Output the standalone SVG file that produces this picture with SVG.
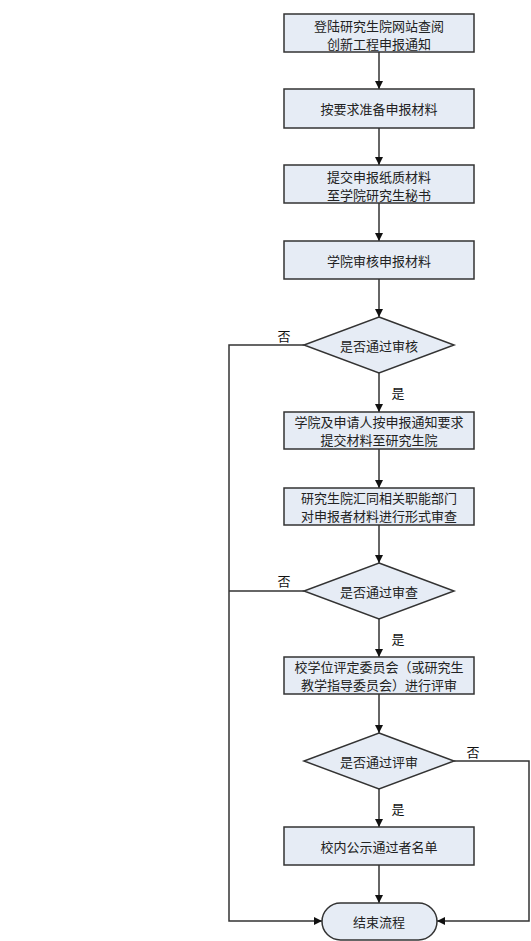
<svg xmlns="http://www.w3.org/2000/svg" width="531" height="941" viewBox="0 0 531 941">
<style>
.n{fill:#E6ECF5;stroke:#333;stroke-width:1.5}
.t{font-family:"Noto Sans CJK SC","Noto Sans",sans-serif;font-size:13px;fill:#222;text-anchor:middle;dominant-baseline:central}
.l{font-family:"Noto Sans CJK SC","Noto Sans",sans-serif;font-size:13px;fill:#111;text-anchor:middle;dominant-baseline:central}
.c{fill:none;stroke:#333;stroke-width:1.5}
</style>
<defs>
<marker id="a" markerWidth="10" markerHeight="10" refX="9" refY="5" orient="auto" markerUnits="userSpaceOnUse">
<path d="M1,1 L9,5 L1,9 z" fill="#111"/>
</marker>
</defs>
<rect width="531" height="941" fill="#fff"/>
<g id="connectors">
<path class="c" d="M379,52 V89" marker-end="url(#a)"/>
<path class="c" d="M379,128 V165" marker-end="url(#a)"/>
<path class="c" d="M379,203 V241" marker-end="url(#a)"/>
<path class="c" d="M379,279 V317" marker-end="url(#a)"/>
<path class="c" d="M379,373 V412" marker-end="url(#a)"/>
<path class="c" d="M379,449 V488" marker-end="url(#a)"/>
<path class="c" d="M379,525 V563" marker-end="url(#a)"/>
<path class="c" d="M379,619 V657" marker-end="url(#a)"/>
<path class="c" d="M379,694 V733" marker-end="url(#a)"/>
<path class="c" d="M379,789 V827" marker-end="url(#a)"/>
<path class="c" d="M379,865 V903" marker-end="url(#a)"/>
<path class="c" d="M304,345 H229 V921 H322" marker-end="url(#a)"/>
<path class="c" d="M304,591 H229"/>
<path class="c" d="M454,761 H529 V921 H437" marker-end="url(#a)"/>
<text class="l" x="284" y="335">否</text>
<text class="l" x="398" y="392">是</text>
<text class="l" x="284" y="580">否</text>
<text class="l" x="398" y="638">是</text>
<text class="l" x="473" y="751">否</text>
<text class="l" x="398" y="808">是</text>
</g>
<g id="n1"><rect class="n" x="284" y="14" width="190" height="38"/><text class="t" x="379" y="25">登陆研究生院网站查阅</text><text class="t" x="379" y="43">创新工程申报通知</text></g>
<g id="n2"><rect class="n" x="284" y="89" width="190" height="39"/><text class="t" x="379" y="108">按要求准备申报材料</text></g>
<g id="n3"><rect class="n" x="284" y="165" width="190" height="38"/><text class="t" x="379" y="176">提交申报纸质材料</text><text class="t" x="379" y="194">至学院研究生秘书</text></g>
<g id="n4"><rect class="n" x="284" y="241" width="190" height="38"/><text class="t" x="379" y="260">学院审核申报材料</text></g>
<g id="d1"><path class="n" d="M379,317 L454,345 L379,373 L304,345 z"/><text class="t" x="379" y="345">是否通过审核</text></g>
<g id="n5"><rect class="n" x="284" y="412" width="190" height="37"/><text class="t" x="379" y="421">学院及申请人按申报通知要求</text><text class="t" x="379" y="439">提交材料至研究生院</text></g>
<g id="n6"><rect class="n" x="284" y="488" width="190" height="37"/><text class="t" x="379" y="497">研究生院汇同相关职能部门</text><text class="t" x="379" y="515">对申报者材料进行形式审查</text></g>
<g id="d2"><path class="n" d="M379,563 L454,591 L379,619 L304,591 z"/><text class="t" x="379" y="591">是否通过审查</text></g>
<g id="n7"><rect class="n" x="284" y="657" width="190" height="37"/><text class="t" x="379" y="666">校学位评定委员会（或研究生</text><text class="t" x="379" y="684">教学指导委员会）进行评审</text></g>
<g id="d3"><path class="n" d="M379,733 L454,761 L379,789 L304,761 z"/><text class="t" x="379" y="761">是否通过评审</text></g>
<g id="n8"><rect class="n" x="284" y="827" width="190" height="38"/><text class="t" x="379" y="846">校内公示通过者名单</text></g>
<g id="end"><rect class="n" x="322" y="903" width="115" height="37" rx="18.5"/><text class="t" x="379" y="921">结束流程</text></g>
</svg>
